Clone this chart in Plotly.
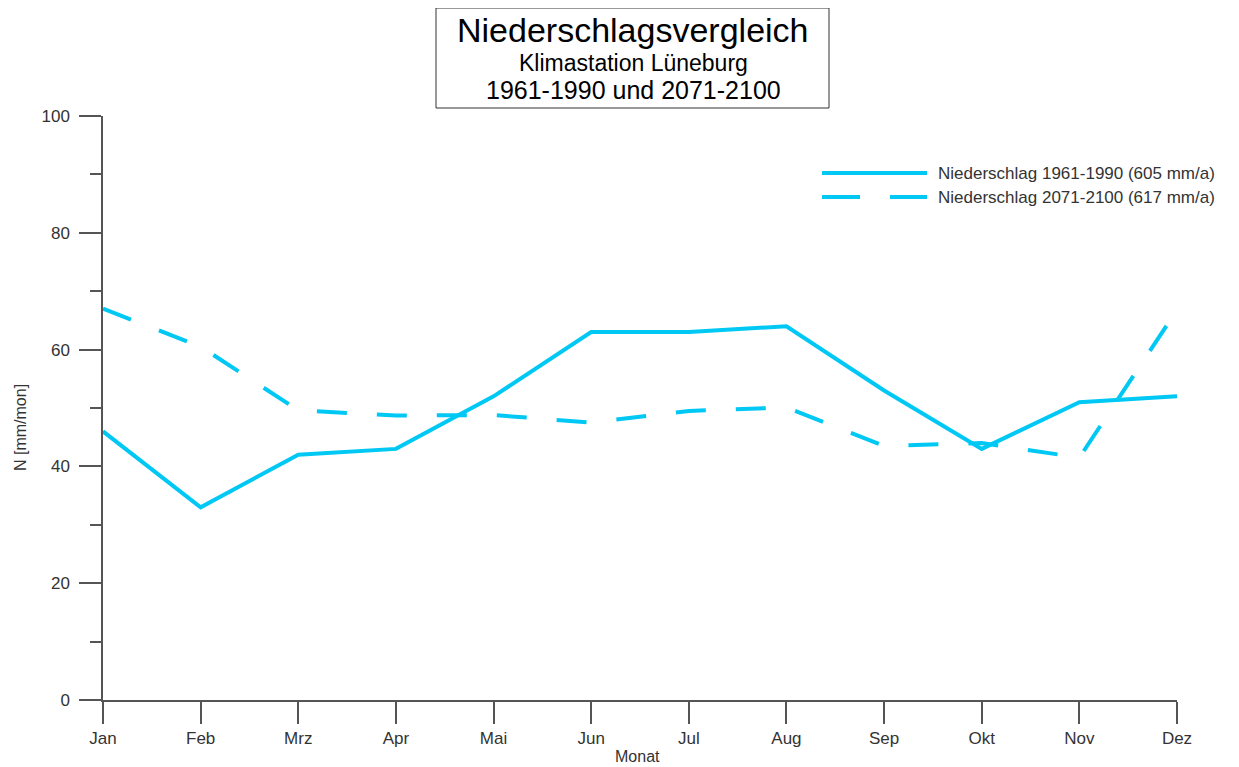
import plotly.graph_objects as go

months = ["Jan", "Feb", "Mrz", "Apr", "Mai", "Jun", "Jul", "Aug", "Sep", "Okt", "Nov", "Dez"]
n_1961_1990 = [46, 33, 42, 43, 52, 63, 63, 64, 53, 43, 51, 52]
n_2071_2100 = [67, 60.5, 49.6, 48.7, 48.8, 47.5, 49.5, 50.1, 43.5, 44, 41.5, 66.8]
name_1 = "Niederschlag 1961-1990 (605 mm/a)"
name_2 = "Niederschlag 2071-2100 (617 mm/a)"

COL = "#00C8F5"
FONT = "Liberation Sans, Arial, sans-serif"
AX = "#555555"

fig = go.Figure()
fig.add_trace(go.Scatter(x=months, y=n_1961_1990, mode="lines", name=name_1,
                         line=dict(color=COL, width=4), showlegend=False))
fig.add_trace(go.Scatter(x=months, y=n_2071_2100, mode="lines", name=name_2,
                         line=dict(color=COL, width=4, dash="30px,30px"), showlegend=False))

# page body has an 8px margin; screen plot area: x 103..1177, y 116..700
OFF = 8
W, H = 1239 - OFF, 767 - OFF
L, T = 103 - OFF, 116 - OFF
R = 1239 - 1177
B = 767 - 700
pw, ph = 1177 - 103, 700 - 116


def px(xs):
    return (xs - 103) / pw


def py(ys):
    return (700 - ys) / ph


# Manual legend
fig.add_shape(type="line", xref="paper", yref="paper", x0=px(822), x1=px(927), y0=py(173), y1=py(173),
              line=dict(color=COL, width=4))
fig.add_shape(type="line", xref="paper", yref="paper", x0=px(822), x1=px(927), y0=py(197), y1=py(197),
              line=dict(color=COL, width=4, dash="38px,30px"))
for name, yy in [(name_1, 173), (name_2, 197)]:
    fig.add_annotation(text=name, xref="paper", yref="paper", x=px(936), y=py(yy), xanchor="left",
                       yanchor="middle", showarrow=False, font=dict(family=FONT, size=17, color="#333333"))

# Title box
fig.add_shape(type="rect", xref="paper", yref="paper", x0=px(436), x1=px(829), y0=py(108), y1=py(8),
              line=dict(color="#333333", width=1), fillcolor="white")
fig.add_annotation(text="Niederschlagsvergleich", xref="paper", yref="paper", x=px(633), y=py(30),
                   showarrow=False, yanchor="middle", font=dict(family=FONT, size=34, color="black"))
fig.add_annotation(text="Klimastation Lüneburg", xref="paper", yref="paper", x=px(633), y=py(63),
                   showarrow=False, yanchor="middle", font=dict(family=FONT, size=23, color="black"))
fig.add_annotation(text="1961-1990 und 2071-2100", xref="paper", yref="paper", x=px(633), y=py(90),
                   showarrow=False, yanchor="middle", font=dict(family=FONT, size=25, color="black"))

# Axis titles
fig.add_annotation(text="Monat", xref="paper", yref="paper", x=px(637), y=py(756),
                   showarrow=False, yanchor="middle", font=dict(family=FONT, size=16, color="#333333"))
fig.add_annotation(text="N [mm/mon]", xref="paper", yref="paper", x=px(20), y=py(428), textangle=-90,
                   showarrow=False, xanchor="center", yanchor="middle",
                   font=dict(family=FONT, size=16, color="#333333"))

fig.update_layout(
    width=W, height=H,
    margin=dict(l=L, r=R, t=T, b=B, autoexpand=False),
    paper_bgcolor="white", plot_bgcolor="white",
    font=dict(family=FONT, size=16, color="#333333"),
    showlegend=False,
    xaxis=dict(type="category", range=[0, 11], showgrid=False, zeroline=False,
               showline=True, linecolor=AX, linewidth=1.5,
               ticks="outside", ticklen=22, tickcolor=AX, tickwidth=1.5,
               tickfont=dict(family=FONT, size=17, color="#333333")),
    yaxis=dict(range=[0, 100], dtick=20, showgrid=False, zeroline=False,
               showline=True, linecolor=AX, linewidth=1.5,
               ticks="outside", ticklen=22, tickcolor=AX, tickwidth=1.5,
               ticklabelstandoff=6,
               tickfont=dict(family=FONT, size=17, color="#333333"),
               minor=dict(dtick=10, ticks="outside", ticklen=11, tickcolor=AX, tickwidth=1.5)),
)

fig.write_html("out.html")
